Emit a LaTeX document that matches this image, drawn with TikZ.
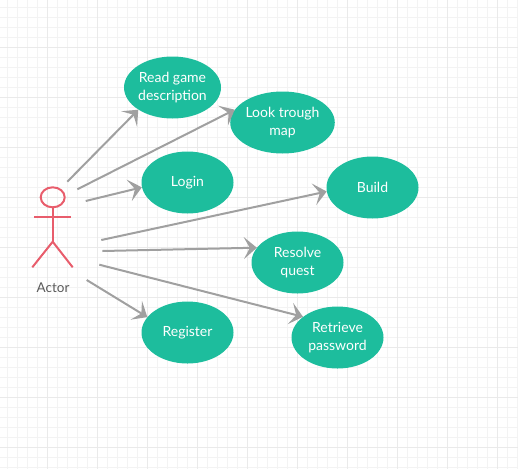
\documentclass[tikz,border=0pt]{standalone}
\usepackage{fontspec}
\setmainfont{Lato}
\usetikzlibrary{shapes.geometric,arrows.meta}
\definecolor{usecase}{HTML}{1DBD9D}
\definecolor{actorred}{HTML}{E85D6C}
\definecolor{linkgray}{HTML}{A0A0A0}
\definecolor{gridminor}{HTML}{F3F3F3}
\definecolor{gridmajor}{HTML}{EAEAEA}
\tikzset{
    usecase/.style={ellipse, fill=usecase, text=white, minimum width=92pt, minimum height=62pt, inner sep=0pt, align=center, font=\fontsize{14}{17.5}\selectfont},
    limb/.style={draw=actorred, line width=2pt},
    link/.style={draw=linkgray, line width=2pt, -{Stealth[length=13pt, width=22pt, inset=6pt]}}
}
\begin{document}
\begin{tikzpicture}[x=1pt, y=-1pt]
            \useasboundingbox (0,0) rectangle (518,469);
            % Background grid
            \foreach \i in {0,...,51} {
                \draw[gridminor, line width=0.8pt] ({7.5 + 10 * \i},0) -- ({7.5 + 10 * \i},469);
            }
            \foreach \i in {0,...,46} {
                \draw[gridminor, line width=0.8pt] (0,{7.5 + 10 * \i}) -- (518,{7.5 + 10 * \i});
            }
            \foreach \i in {0,...,9} {
                \draw[gridmajor, line width=0.8pt] ({47.5 + 50 * \i},0) -- ({47.5 + 50 * \i},469);
            }
            \foreach \i in {0,...,8} {
                \draw[gridmajor, line width=0.8pt] (0,{47.5 + 50 * \i}) -- (518,{47.5 + 50 * \i});
            }

            % Use cases
            \node[usecase] (read) at (172.5,87.5) {Read game\\description};
            \node[usecase] (look) at (282.5,122.5) {Look trough\\map};
            \node[usecase] (login) at (187.5,182.5) {Login};
            \node[usecase] (build) at (372.5,187.5) {Build};
            \node[usecase] (resolve) at (297.5,262.5) {Resolve\\quest};
            \node[usecase] (retrieve) at (337.5,337.5) {Retrieve\\password};
            \node[usecase] (register) at (187.5,332.5) {Register};

            % Actor
            \node[ellipse, limb, minimum width=24pt, minimum height=20pt, inner sep=0pt] (head) at (52.7,197.3) {};
            \coordinate (hip) at (52.7,241.7);
            \coordinate (armL) at (34,216.7);
            \coordinate (armR) at (71.3,216.7);
            \coordinate (footL) at (32.3,267.3);
            \coordinate (footR) at (72.7,267.3);
            \draw[limb] (head.south) -- (hip);
            \draw[limb] (armL) -- (armR);
            \draw[limb] (footL) -- (hip) -- (footR);
            \node[text=black!65, font=\fontsize{13.5}{16}\selectfont] (actor) at (53,288) {Actor};

            % Free ends of the connectors
            \coordinate (s1) at (67.3,181.7);
            \coordinate (s2) at (77.3,189.3);
            \coordinate (s3) at (85.7,201);
            \coordinate (s4) at (101.3,240);
            \coordinate (s5) at (102.3,251);
            \coordinate (s6) at (99.3,264.7);
            \coordinate (s7) at (86.7,280);

            \draw[link] (s1) -- (read.213);
            \draw[link] (s2) -- (look.165);
            \draw[link] (s3) -- (login.186);
            \draw[link] (s4) -- (build.185);
            \draw[link] (s5) -- (resolve.160);
            \draw[link] (s6) -- (retrieve.149);
            \draw[link] (s7) -- (register.159);
        \end{tikzpicture}
\end{document}
